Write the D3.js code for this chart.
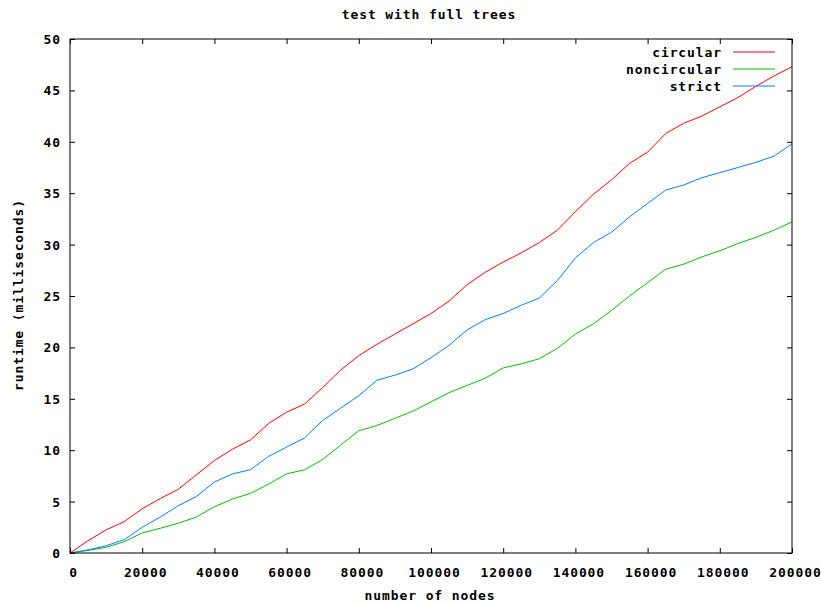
<!DOCTYPE html>
<html>
<head>
<meta charset="utf-8">
<script src="https://cdn.jsdelivr.net/npm/d3@7"></script>
<style>
  body { margin: 0; background: #fff; }
  text { font-family: "DejaVu Sans Mono", "Liberation Mono", monospace; font-weight: bold; font-size: 13px; letter-spacing: 0.9px; fill: #000; }
</style>
</head>
<body>
<svg id="chart" width="821" height="603"></svg>
<script>
const xValues = [0,5000,10000,15000,20000,25000,30000,35000,40000,45000,50000,55000,60000,65000,70000,75000,80000,85000,90000,95000,100000,105000,110000,115000,120000,125000,130000,135000,140000,145000,150000,155000,160000,165000,170000,175000,180000,185000,190000,195000,200000];
const circular = [0,1.2,2.25,3.05,4.3,5.3,6.2,7.6,9.0,10.1,11.0,12.6,13.7,14.5,16.1,17.8,19.2,20.3,21.3,22.3,23.3,24.5,26.1,27.3,28.3,29.2,30.2,31.4,33.2,34.9,36.3,37.9,39.0,40.8,41.8,42.5,43.4,44.3,45.4,46.4,47.3];
const noncircular = [0,0.25,0.55,1.1,1.95,2.4,2.9,3.5,4.5,5.25,5.8,6.7,7.7,8.1,9.1,10.5,11.9,12.4,13.1,13.8,14.7,15.6,16.3,17.0,18.0,18.4,18.9,19.9,21.3,22.3,23.6,25.0,26.3,27.6,28.1,28.8,29.4,30.1,30.7,31.4,32.2];
const strict = [0,0.3,0.7,1.3,2.5,3.5,4.6,5.5,6.9,7.7,8.1,9.4,10.3,11.2,12.9,14.1,15.3,16.8,17.3,17.9,19.0,20.2,21.7,22.7,23.3,24.1,24.8,26.5,28.7,30.2,31.2,32.7,34.0,35.3,35.8,36.5,37.0,37.5,38.0,38.6,39.8];
const seriesNames = ["circular","noncircular","strict"];
const seriesColors = ["#ff0000","#00c000","#0080ff"];
const xTicks = [0,20000,40000,60000,80000,100000,120000,140000,160000,180000,200000];
const yTicks = [0,5,10,15,20,25,30,35,40,45,50];
const title = "test with full trees";
const xLabel = "number of nodes";
const yLabel = "runtime (milliseconds)";

const svg = d3.select("#chart");
const L = 70, R = 792, T = 39, B = 553;
const x = d3.scaleLinear().domain([0,200000]).range([L,R]);
const y = d3.scaleLinear().domain([0,50]).range([B,T]);
const seriesData = [circular, noncircular, strict];

// lines
const line = d3.line().x((d,i)=>x(xValues[i])).y(d=>y(d));
seriesData.forEach((s,k)=>{
  svg.append("path").datum(s).attr("d", line)
    .attr("fill","none").attr("stroke",seriesColors[k]).attr("stroke-width",1);
});

// axes
const tl = 5;
const gx = svg.append("g").attr("transform",`translate(0,${B})`)
  .call(d3.axisBottom(x).tickValues(xTicks).tickFormat(d3.format("d")).tickSize(-tl).tickSizeOuter(0));
gx.selectAll("text").attr("y",19).attr("dx",3).attr("dy","0.35em");
const gxt = svg.append("g").attr("transform",`translate(0,${T})`)
  .call(d3.axisTop(x).tickValues(xTicks).tickFormat("").tickSize(-tl).tickSizeOuter(0));
const gy = svg.append("g").attr("transform",`translate(${L},0)`)
  .call(d3.axisLeft(y).tickValues(yTicks).tickSize(-tl).tickSizeOuter(0));
gy.selectAll("text").attr("x",-9).attr("dy","0.35em");
const gyr = svg.append("g").attr("transform",`translate(${R},0)`)
  .call(d3.axisRight(y).tickValues(yTicks).tickFormat("").tickSize(-tl).tickSizeOuter(0));
[gx,gxt,gy,gyr].forEach(g=>{
  g.select(".domain").remove();
  g.selectAll("line").attr("stroke","#000");
  g.attr("font-family",null).attr("font-size",null);
});
svg.append("rect").attr("x",L).attr("y",T).attr("width",R-L).attr("height",B-T)
  .attr("fill","none").attr("stroke","#000").attr("stroke-width",1);

// title and labels
svg.append("text").attr("x",429).attr("y",14).attr("dy","0.35em").attr("text-anchor","middle").text(title);
svg.append("text").attr("x",430).attr("y",595).attr("dy","0.35em").attr("text-anchor","middle").text(xLabel);
svg.append("text").attr("transform","translate(18,295) rotate(-90)").attr("dy","0.35em").attr("text-anchor","middle").text(yLabel);

// legend
seriesNames.forEach((n,k)=>{
  const yy = 52 + k*17;
  svg.append("text").attr("x",722).attr("y",yy).attr("dy","0.35em").attr("text-anchor","end").text(n);
  svg.append("line").attr("x1",733).attr("x2",775).attr("y1",yy).attr("y2",yy)
    .attr("stroke",seriesColors[k]).attr("stroke-width",1);
});
</script>
</body>
</html>
